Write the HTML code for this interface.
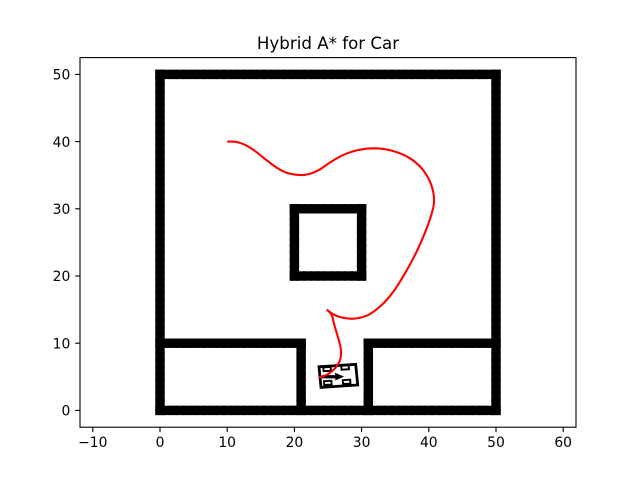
<!DOCTYPE html>
<html>
<head>
<meta charset="utf-8">
<title>Hybrid A* for Car</title>
<style>
html,body{margin:0;padding:0;background:#fff;}
svg{display:block;}
text{font-family:"DejaVu Sans","Liberation Sans",sans-serif;fill:#000;}
</style>
</head>
<body>
<svg id="chart" xmlns="http://www.w3.org/2000/svg" width="640" height="480" viewBox="0 0 640 480">
<rect x="0" y="0" width="640" height="480" fill="#fff"/>
<text x="328" y="49" font-size="16.67" text-anchor="middle">Hybrid A* for Car</text>
<g id="walls"></g>
<g id="car" fill="none" stroke="#000" stroke-width="2.8"></g>
<path id="route" fill="none" stroke="#ff0000" stroke-width="2.08" stroke-linejoin="round"></path>
<rect x="80" y="57.6" width="496" height="369.6" fill="none" stroke="#000" stroke-width="1.11"/>
<g id="axes"></g>
</svg>
<script>
const xTicks = [-10, 0, 10, 20, 30, 40, 50, 60];
const yTicks = [0, 10, 20, 30, 40, 50];
const wallRuns = [
  [[0,0],[50,0],[50,50],[0,50],[0,0]],
  [[20,20],[30,20],[30,30],[20,30],[20,20]],
  [[0,10],[21,10],[21,0]],
  [[50,10],[31,10],[31,0]]
];
const pathX = [10,11.41,12.9,14.39,15.88,17.37,18.85,20.83,22.32,23.81,25.3,27.28,29.51,32,34.48,36.95,38.94,40.18,40.73,40.73,40.18,39.18,37.95,36.46,34.72,32.99,31.25,29.76,28.27,26.79,25.7,24.81];
const pathY = [40,39.94,39.39,38.41,37.22,36.12,35.37,35.03,35.22,35.88,36.89,38.01,38.75,39,38.65,37.66,36.03,34.03,32.05,30.57,28.48,25.85,23.13,20.4,17.66,15.68,14.35,13.79,13.65,13.9,14.35,15.01];
const reverseX = [24.81,25.55,25.94,26.53,26.93,26.79,26.04,25.04,23.66];
const reverseY = [15.01,14.2,12.71,10.73,8.99,7.5,6.26,5.42,4.87];
const carBody = [[23.66,6.5],[29.12,6.86],[29.42,3.78],[23.96,3.43]];
const carWheels = [
  [[24.3,6.4],[25.4,6.47],[25.44,5.9],[24.34,5.83]],
  [[26.98,6.65],[28.08,6.72],[28.12,6.13],[27.02,6.06]],
  [[24.4,4.35],[25.5,4.42],[25.54,3.85],[24.44,3.78]],
  [[27.2,4.5],[28.3,4.57],[28.34,4],[27.24,3.93]]
];
const carArrowLine = [[24.1,5.01],[26.5,5.01]];
const carArrowHead = [[26.04,5.6],[27.38,5.03],[26.1,4.45]];

const SVGNS = 'http://www.w3.org/2000/svg';
const pxPerUnit = 6.72;
function sx(v){ return 160 + v * pxPerUnit; }
function sy(v){ return 410.4 - v * pxPerUnit; }
function pts(list){ return list.map(p => sx(p[0]).toFixed(2) + ',' + sy(p[1]).toFixed(2)).join(' '); }
function make(tag, attrs){
  const el = document.createElementNS(SVGNS, tag);
  for (const k in attrs) el.setAttribute(k, attrs[k]);
  return el;
}

const wallsG = document.getElementById('walls');
wallRuns.forEach(run => {
  for (let i = 0; i < run.length - 1; i++) {
    const a = run[i], b = run[i + 1];
    const n = Math.round(Math.max(Math.abs(b[0] - a[0]), Math.abs(b[1] - a[1])));
    for (let k = 0; k <= n; k++) {
      const wx = a[0] + (b[0] - a[0]) * k / n;
      const wy = a[1] + (b[1] - a[1]) * k / n;
      const r = make('rect', {x: sx(wx) - 4.7, y: sy(wy) - 4.7, width: 9.4, height: 9.4, fill: '#000'});
      
      
      wallsG.appendChild(r);
    }
  }
});

function smooth(xs, ys){
  const P = xs.map((x, i) => [sx(x), sy(ys[i])]);
  let d = 'M' + P[0][0].toFixed(2) + ' ' + P[0][1].toFixed(2);
  for (let i = 0; i < P.length - 1; i++) {
    const p0 = P[Math.max(i - 1, 0)], p1 = P[i], p2 = P[i + 1], p3 = P[Math.min(i + 2, P.length - 1)];
    const c1x = p1[0] + (p2[0] - p0[0]) / 6, c1y = p1[1] + (p2[1] - p0[1]) / 6;
    const c2x = p2[0] - (p3[0] - p1[0]) / 6, c2y = p2[1] - (p3[1] - p1[1]) / 6;
    d += 'C' + c1x.toFixed(2) + ' ' + c1y.toFixed(2) + ' ' + c2x.toFixed(2) + ' ' + c2y.toFixed(2) + ' ' + p2[0].toFixed(2) + ' ' + p2[1].toFixed(2);
  }
  return d;
}
document.getElementById('route').setAttribute('d', smooth(pathX, pathY) + smooth(reverseX, reverseY));

const carG = document.getElementById('car');
const body = make('polygon', {points: pts(carBody)});


carG.appendChild(body);
carWheels.forEach(w => {
  const el = make('polygon', {points: pts(w), 'stroke-width': 1.9});
  
  
  carG.appendChild(el);
});
const arrowLine = make('polyline', {points: pts(carArrowLine), 'stroke-width': 3.2});


carG.appendChild(arrowLine);
const arrowHead = make('polygon', {points: pts(carArrowHead), fill: '#000', stroke: 'none'});


carG.appendChild(arrowHead);

const axesG = document.getElementById('axes');
function label(v){ return v < 0 ? '\u2212' + Math.abs(v) : String(v); }
xTicks.forEach(v => {
  const t = make('line', {x1: sx(v), x2: sx(v), y1: 427.2, y2: 432.06, stroke: '#000', 'stroke-width': 1.11});
  
  
  axesG.appendChild(t);
  const s = make('text', {x: sx(v), y: 447, 'font-size': 13.89, 'text-anchor': 'middle'});
  
  
  s.textContent = label(v);
  axesG.appendChild(s);
});
yTicks.forEach(v => {
  const t = make('line', {x1: 75.14, x2: 80, y1: sy(v), y2: sy(v), stroke: '#000', 'stroke-width': 1.11});
  
  
  axesG.appendChild(t);
  const s = make('text', {x: 70.3, y: sy(v) + 5.2, 'font-size': 13.89, 'text-anchor': 'end'});
  
  
  s.textContent = label(v);
  axesG.appendChild(s);
});
</script>
</body>
</html>
